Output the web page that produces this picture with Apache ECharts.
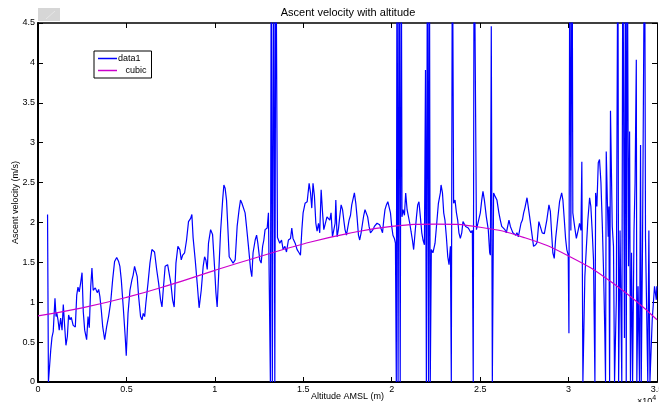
<!DOCTYPE html>
<html>
<head>
<meta charset="utf-8">
<script src="https://cdn.jsdelivr.net/npm/echarts@6/dist/echarts.min.js"></script>
<style>
  html, body { margin: 0; padding: 0; background: #fff; }
  #chart { width: 659px; height: 402px; }
</style>
</head>
<body>
<div id="chart"></div>
<script>
// Balloon ascent log: altitude above mean sea level (m) and ascent rate (m/s).
// Values above 4.5 m/s run off the top of the plot and are clipped.
const altitudeM = [
  540, 590, 720, 790, 860, 960, 1020, 1060, 1130, 1200,
  1280, 1360, 1430, 1510, 1580, 1660, 1730, 1810, 1880, 1990,
  2110, 2190, 2260, 2330, 2410, 2490, 2560, 2640, 2750, 2830,
  2900, 2980, 3050, 3120, 3240, 3350, 3430, 3500, 3580, 3660,
  3770, 3880, 3990, 4110, 4220, 4330, 4450, 4560, 4630, 4710,
  4820, 4930, 4990, 5090, 5200, 5310, 5380, 5460, 5540, 5610,
  5690, 5800, 5880, 5950, 6030, 6100, 6220, 6330, 6440, 6510,
  6590, 6710, 6820, 6930, 7010, 7080, 7190, 7330, 7420, 7510,
  7610, 7700, 7800, 7910, 8020, 8100, 8180, 8290, 8400, 8510,
  8630, 8700, 8770, 8890, 9000, 9110, 9230, 9340, 9420, 9490,
  9570, 9640, 9760, 9870, 9980, 10060, 10130, 10210, 10320, 10440,
  10510, 10580, 10660, 10740, 10810, 10920, 11030, 11150, 11260, 11370,
  11450, 11530, 11600, 11710, 11790, 11900, 12020, 12090, 12160, 12280,
  12360, 12430, 12540, 12620, 12700, 12770, 12840, 12960, 13030, 13080,
  13140, 13190, 13250, 13330, 13390, 13450, 13540, 13670, 13770, 13860,
  13960, 14050, 14160, 14280, 14350, 14420, 14540, 14650, 14760, 14840,
  14920, 14990, 15100, 15220, 15330, 15410, 15480, 15550, 15630, 15710,
  15780, 15860, 15930, 16010, 16090, 16160, 16230, 16340, 16420, 16500,
  16570, 16650, 16720, 16800, 16840, 16910, 16990, 17060, 17140, 17220,
  17290, 17360, 17440, 17510, 17590, 17670, 17740, 17810, 17890, 17970,
  18040, 18120, 18190, 18270, 18350, 18420, 18490, 18570, 18640, 18720,
  18800, 18870, 18940, 19020, 19100, 19170, 19250, 19320, 19400, 19480,
  19550, 19620, 19700, 19780, 19850, 19930, 20000, 20070, 20150, 20210,
  20260, 20300, 20360, 20420, 20480, 20540, 20580, 20640, 20720, 20790,
  20870, 20940, 21020, 21090, 21170, 21240, 21320, 21400, 21470, 21540,
  21620, 21700, 21770, 21850, 21910, 21960, 22020, 22080, 22130, 22180,
  22240, 22330, 22450, 22530, 22640, 22750, 22790, 22870, 22940, 23010,
  23090, 23170, 23240, 23320, 23370, 23430, 23500, 23580, 23660, 23730,
  23800, 23880, 23960, 24030, 24110, 24180, 24260, 24330, 24410, 24480,
  24560, 24610, 24660, 24790, 24900, 25010, 25090, 25160, 25240, 25350,
  25460, 25540, 25580, 25630, 25690, 25760, 25840, 25950, 26060, 26140,
  26220, 26290, 26400, 26480, 26560, 26630, 26710, 26780, 26850, 26930,
  27010, 27080, 27160, 27230, 27310, 27390, 27460, 27530, 27650, 27800,
  27910, 28020, 28140, 28220, 28320, 28400, 28510, 28630, 28770, 28890,
  28970, 29040, 29110, 29190, 29270, 29380, 29490, 29610, 29680, 29760,
  29830, 29900, 29980, 30020, 30070, 30130, 30200, 30240, 30340, 30440,
  30550, 30620, 30700, 30750, 30810, 30920, 31000, 31090, 31190, 31260,
  31340, 31410, 31490, 31530, 31600, 31680, 31750, 31830, 31910, 31980,
  32050, 32090, 32130, 32240, 32280, 32320, 32370, 32470, 32540, 32600,
  32700, 32790, 32830, 32910, 33010, 33070, 33160, 33220, 33260, 33320,
  33390, 33450, 33500, 33560, 33620, 33700, 33760, 33830, 33860, 33930,
  34010, 34070, 34110, 34180, 34300, 34350, 34480, 34540, 34600, 34730,
  34860, 34960, 34990
];

const velocity = [
  2.10, 0, 0.40, 0.56, 0.63, 1.05, 0.82, 0.87, 0.78, 0.65,
  0.80, 0.65, 0.97, 0.69, 0.46, 0.57, 0.84, 0.78, 0.81, 0.71,
  0.69, 1.09, 1.19, 1.13, 1.24, 1.37, 0.88, 0.65, 0.53, 0.82,
  0.68, 1.19, 1.43, 1.15, 1.18, 1.12, 1.16, 1.07, 0.90, 0.69,
  0.53, 0.69, 0.82, 1.00, 1.28, 1.51, 1.56, 1.51, 1.45, 1.28,
  0.94, 0.57, 0.33, 0.86, 1.15, 1.28, 1.34, 1.45, 1.47, 1.32,
  1.07, 0.82, 0.78, 0.86, 0.82, 0.99, 1.24, 1.49, 1.66, 1.68,
  1.63, 1.41, 1.24, 1.03, 0.94, 1.15, 1.45, 1.47, 1.49, 1.24,
  1.03, 0.94, 1.49, 1.70, 1.66, 1.53, 1.59, 1.62, 1.78, 2.01,
  2.05, 2.10, 1.81, 1.53, 1.24, 0.93, 1.15, 1.45, 1.57, 1.53,
  1.41, 1.74, 1.91, 1.85, 1.45, 1.12, 0.94, 1.32, 1.87, 2.28,
  2.47, 2.43, 2.28, 1.91, 1.57, 1.53, 1.49, 1.53, 1.95, 2.16,
  2.28, 2.24, 2.26, 2.12, 1.95, 1.70, 1.41, 1.32, 1.62, 1.78,
  1.84, 1.74, 1.53, 1.49, 1.70, 1.78, 1.91, 1.93, 2.12, 2.14,
  0, 6, 0, 6, 0, 6, 1.81, 1.74, 1.78, 1.66,
  1.70, 1.63, 1.78, 1.80, 1.93, 1.80, 1.74, 1.66, 1.62, 1.59,
  1.91, 2.12, 2.24, 2.26, 2.49, 2.37, 2.18, 2.49, 2.33, 1.99,
  1.89, 1.99, 1.87, 2.41, 2.12, 1.91, 1.89, 2.07, 2.09, 2.03,
  2.12, 1.82, 1.82, 1.99, 2.28, 1.82, 1.92, 2.07, 2.22, 2.16,
  2.03, 1.91, 1.84, 1.84, 2.03, 2.09, 2.22, 2.22, 2.37, 2.24,
  2.07, 1.84, 1.78, 1.87, 1.99, 2.09, 2.16, 2.14, 2.07, 1.95,
  1.87, 1.89, 1.91, 1.95, 1.97, 1.99, 1.97, 1.97, 1.95, 1.87,
  2.03, 2.16, 2.22, 2.26, 2.24, 2.12, 1.95, 1.84, 1.80, 1.74,
  0, 6, 0, 6, 0, 6, 2.07, 2.16, 2.09, 2.37,
  2.16, 2.14, 1.99, 1.89, 1.78, 1.66, 1.87, 2.07, 2.22, 2.26,
  2.07, 1.87, 1.78, 1.72, 3.91, 0, 6, 0, 6, 0,
  1.66, 1.62, 1.74, 1.95, 2.24, 2.37, 2.47, 2.37, 2.12, 2.03,
  1.82, 1.57, 1.47, 1.70, 0, 6, 2.24, 2.28, 2.12, 2.03,
  1.87, 1.80, 1.87, 2.01, 2.03, 1.95, 1.95, 1.93, 1.93, 1.87,
  1.90, 0, 6, 1.91, 1.93, 2.12, 2.28, 2.39, 2.28, 2.07,
  1.91, 1.62, 1.59, 4.46, 0, 2.37, 2.33, 2.28, 2.12, 2.03,
  1.95, 1.97, 1.91, 1.87, 1.89, 2.03, 1.95, 1.91, 1.87, 1.89,
  1.84, 1.87, 1.82, 1.84, 1.99, 2.03, 2.12, 2.18, 2.31, 2.07,
  2.05, 1.70, 1.72, 1.75, 2.01, 1.95, 1.87, 1.86, 2.03, 2.22,
  2.14, 1.87, 1.62, 1.55, 1.80, 2.03, 2.26, 2.37, 2.28, 2.03,
  1.80, 1.66, 1.59, 0.61, 6, 1.90, 6, 2.12, 1.95, 1.80,
  1.91, 1.99, 1.90, 2.76, 0, 1.32, 1.66, 2.03, 2.31, 2.20,
  1.87, 1.53, 0, 2.37, 2.20, 2.75, 2.79, 2.50, 1.95, 1.37,
  0.61, 0, 2.89, 1.82, 2.20, 0, 3.40, 1.95, 1.70, 0,
  1.03, 6, 0, 1.90, 0, 6, 0.55, 6, 0, 6,
  1.45, 3.14, 0, 1.62, 0, 1.90, 2.50, 4.04, 0, 1.20,
  0, 2.97, 0, 1.70, 6, 1.80, 0, 1.90, 0, 0.78,
  1.20, 1.03, 1.20
];

// Cubic fit of ascent rate against altitude
const cubicAltitudeM = [0, 2500, 5000, 7500, 10000, 12500, 15000, 17500, 20000, 22500, 25000, 27500, 30000, 32500, 35000];
const cubicVelocity  = [0.83, 0.93, 1.06, 1.22, 1.40, 1.57, 1.73, 1.86, 1.95, 1.98, 1.94, 1.81, 1.58, 1.24, 0.78];

// Axis ticks
const xTicksM = { min: 0, max: 35000, step: 5000 };
const yTicks = { min: 0, max: 4.5, step: 0.5 };

const FONT = 'Liberation Sans, Arial, Helvetica, sans-serif';
const BLACK = '#000';

const dataPairs = altitudeM.map((a, i) => [a, velocity[i]]);
const cubicPairs = cubicAltitudeM.map((a, i) => [a, cubicVelocity[i]]);

const chart = echarts.init(document.getElementById('chart'), null, { renderer: 'canvas' });

const tickStyle = { inside: true, length: 5, lineStyle: { color: BLACK, width: 1 } };

const option = {
  animation: false,
  backgroundColor: '#fff',
  grid: { left: 38, right: 2, top: 23, bottom: 20, containLabel: false, outerBoundsMode: 'none' },
  legend: {
    data: ['data1', 'cubic'],
    orient: 'vertical',
    left: 94,
    top: 51,
    icon: 'rect',
    itemWidth: 19,
    itemHeight: 1.5,
    itemGap: 1,
    padding: [2, 5, 2, 4],
    borderColor: BLACK,
    borderWidth: 1,
    backgroundColor: '#fff',
    selectedMode: false,
    formatter: name => (name === 'cubic' ? '   cubic' : name),
    textStyle: { fontFamily: FONT, fontSize: 9, color: BLACK, lineHeight: 11, padding: [0, 0, 0, -4] }
  },
  xAxis: [
    {
      type: 'value',
      position: 'bottom',
      min: xTicksM.min, max: xTicksM.max, interval: xTicksM.step,
      axisLine: { show: true, onZero: false, lineStyle: { color: BLACK, width: 2 } },
      axisTick: tickStyle,
      axisLabel: {
        fontFamily: FONT, fontSize: 9, color: BLACK, margin: 3,
        formatter: v => String(v / 10000)
      },
      splitLine: { show: false },
      name: 'Altitude AMSL (m)',
      nameLocation: 'middle',
      nameGap: 10,
      nameMoveOverlap: false,
      nameTextStyle: { fontFamily: FONT, fontSize: 9, color: BLACK }
    },
    {
      type: 'value',
      position: 'top',
      min: xTicksM.min, max: xTicksM.max, interval: xTicksM.step,
      axisLine: { show: true, onZero: false, lineStyle: { color: BLACK, width: 1.5 } },
      axisTick: tickStyle,
      axisLabel: { show: false },
      splitLine: { show: false }
    }
  ],
  yAxis: [
    {
      type: 'value',
      position: 'left',
      min: yTicks.min, max: yTicks.max, interval: yTicks.step,
      axisLine: { show: true, onZero: false, lineStyle: { color: BLACK, width: 2 } },
      axisTick: tickStyle,
      axisLabel: { fontFamily: FONT, fontSize: 9, color: BLACK, margin: 3 },
      splitLine: { show: false },
      name: 'Ascent velocity (m/s)',
      nameLocation: 'middle',
      nameRotate: 90,
      nameGap: 18,
      nameMoveOverlap: false,
      nameTextStyle: { fontFamily: FONT, fontSize: 9, color: BLACK }
    },
    {
      type: 'value',
      position: 'right',
      min: yTicks.min, max: yTicks.max, interval: yTicks.step,
      axisLine: { show: true, onZero: false, lineStyle: { color: BLACK, width: 1 } },
      axisTick: tickStyle,
      axisLabel: { show: false },
      splitLine: { show: false }
    }
  ],
  series: [
    {
      name: 'data1',
      type: 'line',
      xAxisIndex: 0,
      yAxisIndex: 0,
      data: dataPairs,
      color: '#0000ff',
      symbol: 'none',
      showSymbol: false,
      clip: true,
      lineStyle: { color: '#0000ff', width: 1.2 },
      z: 2
    },
    {
      name: 'cubic',
      type: 'line',
      xAxisIndex: 0,
      yAxisIndex: 0,
      data: cubicPairs,
      smooth: true,
      color: '#cc00cc',
      symbol: 'none',
      showSymbol: false,
      clip: true,
      lineStyle: { color: '#cc00cc', width: 1.2 },
      z: 3
    }
  ],
  graphic: [
    {
      type: 'text',
      x: 348,
      y: 7,
      style: {
        text: 'Ascent velocity with altitude',
        align: 'center',
        verticalAlign: 'top',
        fontFamily: FONT, fontSize: 11, fill: BLACK
      }
    },
    {
      type: 'rect',
      shape: { x: 38, y: 8, width: 22, height: 13 },
      style: { fill: '#d6d6d6' },
      silent: true
    },
    {
      type: 'line',
      shape: { x1: 46, y1: 19, x2: 55, y2: 11 },
      style: { stroke: '#e6e6e6', lineWidth: 1 },
      silent: true
    },
    {
      type: 'text',
      left: 637,
      top: 395,
      style: {
        text: '×10{sup|4}',
        fontFamily: FONT, fontSize: 9, fill: BLACK,
        rich: { sup: { fontFamily: FONT, fontSize: 7, fill: BLACK, verticalAlign: 'top', padding: [0, 0, 6, 0] } }
      }
    }
  ]
};

chart.setOption(option);
</script>
</body>
</html>
